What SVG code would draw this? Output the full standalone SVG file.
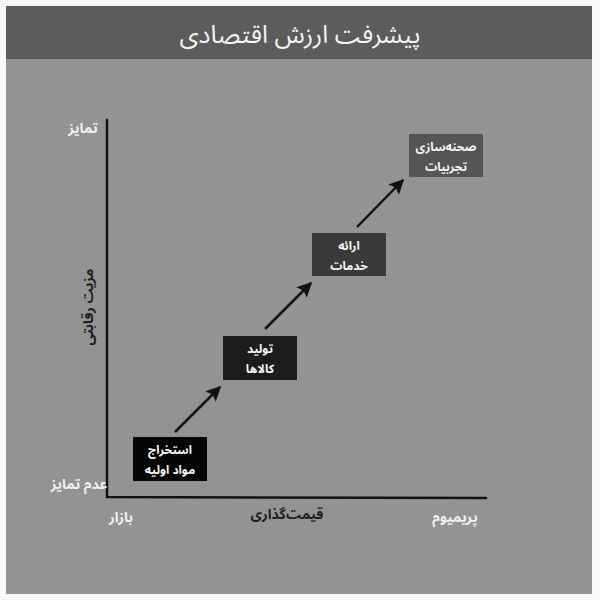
<svg xmlns="http://www.w3.org/2000/svg" width="600" height="600" viewBox="0 0 600 600">
  <style>
    .t { font-family: "Noto Sans Arabic", "DejaVu Sans", "Noto Sans", sans-serif; }
    .title { font-size: 25px; fill: #f4f4f4; }
    .lbl { font-size: 14px; font-weight: bold; }
    .light { fill: #f2f0f0; }
    .dark { fill: #1e1e1e; }
    .box text { font-size: 12px; font-weight: bold; fill: #f4f4f4; text-anchor: middle; }
    .axis { stroke: #111; stroke-width: 2.5; fill: none; stroke-linecap: round; }
    .arrow { stroke: #111; stroke-width: 2.5; fill: none; }
  </style>
  <defs>
    <marker id="ah" viewBox="0 0 10 10" refX="9" refY="5" markerWidth="6" markerHeight="6" orient="auto" markerUnits="strokeWidth">
      <path d="M0,0 L10,5 L0,10 L2,5 z" fill="#111"/>
    </marker>
  </defs>
  <rect x="0" y="0" width="600" height="600" fill="#f8f8fa"/>
  <rect x="6" y="6" width="586" height="588" fill="#939393"/>
  <rect x="6" y="6" width="586" height="53" fill="#5c5c5c"/>
  <text class="t title" x="300" y="43" text-anchor="middle">پیشرفت ارزش اقتصادی</text>

  <g id="axes">
    <path class="axis" d="M107,120 L107,497 L486,498"/>
  </g>
  <g id="axis-labels">
    <text class="t lbl light" x="83" y="133" text-anchor="middle">تمایز</text>
    <text class="t lbl light" x="79" y="489" text-anchor="middle">عدم تمایز</text>
    <text class="t lbl dark" x="0" y="0" text-anchor="middle" transform="translate(93,307) rotate(-90)">مزیت رقابتی</text>
    <text class="t lbl light" x="121" y="522" text-anchor="middle">بازار</text>
    <text class="t lbl dark" x="287" y="519" text-anchor="middle">قیمت‌گذاری</text>
    <text class="t lbl light" x="455" y="522" text-anchor="middle">پریمیوم</text>
  </g>

  <g id="connectors">
    <line class="arrow" x1="175" y1="432" x2="220" y2="387" marker-end="url(#ah)"/>
    <line class="arrow" x1="265" y1="329" x2="311" y2="283" marker-end="url(#ah)"/>
    <line class="arrow" x1="357" y1="227" x2="403" y2="180" marker-end="url(#ah)"/>
  </g>

  <g id="node1" class="box t">
    <rect x="133" y="437" width="74" height="44" fill="#050505"/>
    <text x="170" y="454">استخراج</text>
    <text x="170" y="474">مواد اولیه</text>
  </g>
  <g id="node2" class="box t">
    <rect x="223" y="336" width="74" height="44" fill="#1c1c1c"/>
    <text x="260" y="353">تولید</text>
    <text x="260" y="373">کالاها</text>
  </g>
  <g id="node3" class="box t">
    <rect x="312" y="233" width="74" height="43" fill="#3a3a3a"/>
    <text x="349" y="250">ارائه</text>
    <text x="349" y="270">خدمات</text>
  </g>
  <g id="node4" class="box t">
    <rect x="409" y="134" width="74" height="43" fill="#555555"/>
    <text x="446" y="151">صحنه‌سازی</text>
    <text x="446" y="171">تجربیات</text>
  </g>
</svg>
